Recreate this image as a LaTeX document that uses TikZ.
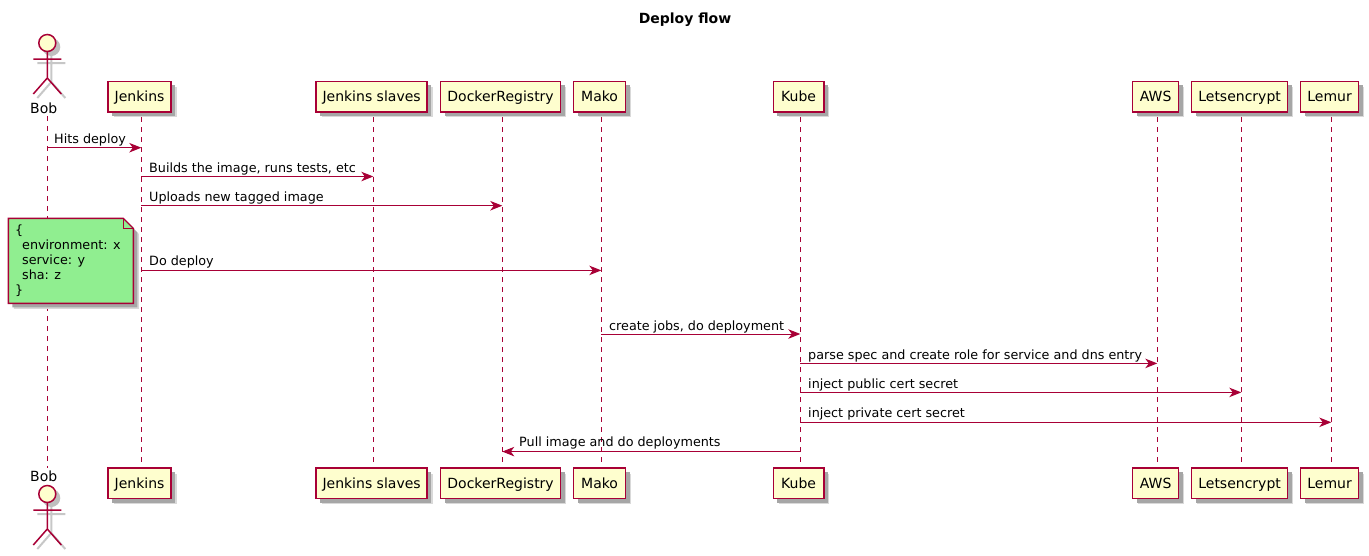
\documentclass[tikz,border=0pt]{standalone}
\usepackage{fontspec}
\setmainfont{DejaVu Sans}
\usetikzlibrary{arrows.meta,shadows}
\definecolor{line}{HTML}{A80036}
\definecolor{paper}{HTML}{FEFECE}
\definecolor{memo}{HTML}{90EE90}
\def\fs{\fontsize{12.75}{15}\selectfont}
\def\fp{\fontsize{14}{16}\selectfont}
\tikzstyle{soft}=[general shadow={shadow xshift=5.5pt,shadow yshift=-5.5pt,fill=black!15},general shadow={shadow xshift=4pt,shadow yshift=-4pt,fill=black!35}]
\tikzstyle{p}=[rectangle,draw=line,fill=paper,line width=1.5pt,minimum height=30.5pt,inner xsep=0pt,inner ysep=0pt,text height=11pt,text depth=1pt,font=\fp,soft]
\tikzstyle{head}=[circle,draw=line,fill=paper,line width=1.5pt,minimum size=17pt,inner sep=0pt]
\tikzstyle{limb}=[draw=line,line width=1.5pt]
\tikzstyle{limbshade}=[draw=black!22,line width=2pt]
\tikzstyle{life}=[draw=line,line width=1pt,dash pattern=on 5pt off 5pt]
\tikzstyle{msg}=[draw=line,line width=1pt,-{Stealth[length=12pt,width=9.5pt,inset=3.5pt]}]
\tikzstyle{txt}=[font=\fs,inner sep=0pt,anchor=base west]
\tikzstyle{bobname}=[font=\fp,inner sep=0pt,anchor=base west]
\def\actorfig#1#2{
	\begin{scope}[shift={(#2)}]
		\begin{scope}[shift={(4,4)}]
			\path[limbshade](0,8)--(0,35)(-14,16)--(14,16)(-14,51)--(0,35)--(14,51);
			\fill[black!25](0,0) circle (9);
		\end{scope}
		\path[limb](0,8)--(0,35)(-14,16)--(14,16)(-14,51)--(0,35)--(14,51);
		\node[head](#1) at (0,0){};
	\end{scope}
}
\begin{document}
\begin{tikzpicture}[x=1pt,y=-1pt]
	\useasboundingbox (0,0) rectangle (1369,555);
	\node[font=\fp\bfseries,inner sep=0pt,anchor=base](title) at (685,23){Deploy flow};
	% lifelines
	\coordinate(bobL) at (47.3,116);
	\node[p,minimum width=63pt](jenkins) at (139.6,96.5){Jenkins};
	\node[p,minimum width=111pt](slaves) at (371.6,96.5){Jenkins slaves};
	\node[p,minimum width=120pt](docker) at (500.6,96.5){DockerRegistry};
	\node[p,minimum width=52pt](mako) at (599.6,96.5){Mako};
	\node[p,minimum width=50.5pt](kube) at (798.6,96.5){Kube};
	\node[p,minimum width=46pt](aws) at (1155.6,96.5){AWS};
	\node[p,minimum width=96pt](lets) at (1239.6,96.5){Letsencrypt};
	\node[p,minimum width=58pt](lemur) at (1329.6,96.5){Lemur};
	\node[p,minimum width=63pt](jenkinsb) at (139.6,483.4){Jenkins};
	\node[p,minimum width=111pt](slavesb) at (371.6,483.4){Jenkins slaves};
	\node[p,minimum width=120pt](dockerb) at (500.6,483.4){DockerRegistry};
	\node[p,minimum width=52pt](makob) at (599.6,483.4){Mako};
	\node[p,minimum width=50.5pt](kubeb) at (798.6,483.4){Kube};
	\node[p,minimum width=46pt](awsb) at (1155.6,483.4){AWS};
	\node[p,minimum width=96pt](letsb) at (1239.6,483.4){Letsencrypt};
	\node[p,minimum width=58pt](lemurb) at (1329.6,483.4){Lemur};
	\coordinate(jenkinsL) at ([xshift=1.7pt,yshift=-4.8pt]jenkins.south);
	\coordinate(slavesL) at ([xshift=1.7pt,yshift=-4.8pt]slaves.south);
	\coordinate(dockerL) at ([xshift=1.7pt,yshift=-4.8pt]docker.south);
	\coordinate(makoL) at ([xshift=1.7pt,yshift=-4.8pt]mako.south);
	\coordinate(kubeL) at ([xshift=1.7pt,yshift=-4.8pt]kube.south);
	\coordinate(awsL) at ([xshift=1.7pt,yshift=-4.8pt]aws.south);
	\coordinate(letsL) at ([xshift=1.7pt,yshift=-4.8pt]lets.south);
	\coordinate(lemurL) at ([xshift=1.7pt,yshift=-4.8pt]lemur.south);
	\draw[life](bobL)--(47.3,468);
	\draw[life](jenkinsL)--(jenkinsL|-jenkinsb.north);
	\draw[life](slavesL)--(slavesL|-slavesb.north);
	\draw[life](dockerL)--(dockerL|-dockerb.north);
	\draw[life](makoL)--(makoL|-makob.north);
	\draw[life](kubeL)--(kubeL|-kubeb.north);
	\draw[life](awsL)--(awsL|-awsb.north);
	\draw[life](letsL)--(letsL|-letsb.north);
	\draw[life](lemurL)--(lemurL|-lemurb.north);
	% actors
	\actorfig{bob}{47.3,43}
	\actorfig{bobb}{47.3,494}
	\node[bobname](bobt) at (30,113){Bob};
	\node[bobname](bobbt) at (30,481){Bob};
	% note
	\draw[draw=line,fill=memo,line width=1.4pt,soft](8.3,218.3)--(123.3,218.3)--(133.3,228.3)--(133.3,303.3)--(8.3,303.3)--cycle;
	\draw[draw=line,line width=1pt](123.3,218.3)--(123.3,228.3)--(133.3,228.3);
	\node[txt,align=left,anchor=north west](note) at (15,225){\{\\ \hspace*{7pt}environment: x\\ \hspace*{7pt}service: y\\ \hspace*{7pt}sha: z\\ \}};
	% messages
	\coordinate(m1) at (0,147.7);
	\coordinate(m2) at (0,176.5);
	\coordinate(m3) at (0,205.7);
	\coordinate(m4) at (0,270.4);
	\coordinate(m5) at (0,334);
	\coordinate(m6) at (0,363.4);
	\coordinate(m7) at (0,392.4);
	\coordinate(m8) at (0,422.3);
	\coordinate(m9) at (0,451.6);
	\draw[msg](bobL|-m1)--(jenkinsL|-m1);
	\draw[msg](jenkinsL|-m2)--(slavesL|-m2);
	\draw[msg](jenkinsL|-m3)--(dockerL|-m3);
	\draw[msg](jenkinsL|-m4)--(makoL|-m4);
	\draw[msg](makoL|-m5)--(kubeL|-m5);
	\draw[msg](kubeL|-m6)--(awsL|-m6);
	\draw[msg](kubeL|-m7)--(letsL|-m7);
	\draw[msg](kubeL|-m8)--(lemurL|-m8);
	\draw[msg](kubeL|-m9)--(dockerL|-m9);
	\node[txt](t1) at (54,143){Hits deploy};
	\node[txt](t2) at (149,172){Builds the image, runs tests, etc};
	\node[txt](t3) at (149,201){Uploads new tagged image};
	\node[txt](t4) at (149,265){Do deploy};
	\node[txt](t5) at (609,330){create jobs, do deployment};
	\node[txt](t6) at (808,359){parse spec and create role for service and dns entry};
	\node[txt](t7) at (808,388){inject public cert secret};
	\node[txt](t8) at (808,417){inject private cert secret};
	\node[txt](t9) at (519,446){Pull image and do deployments};
\end{tikzpicture}
\end{document}
